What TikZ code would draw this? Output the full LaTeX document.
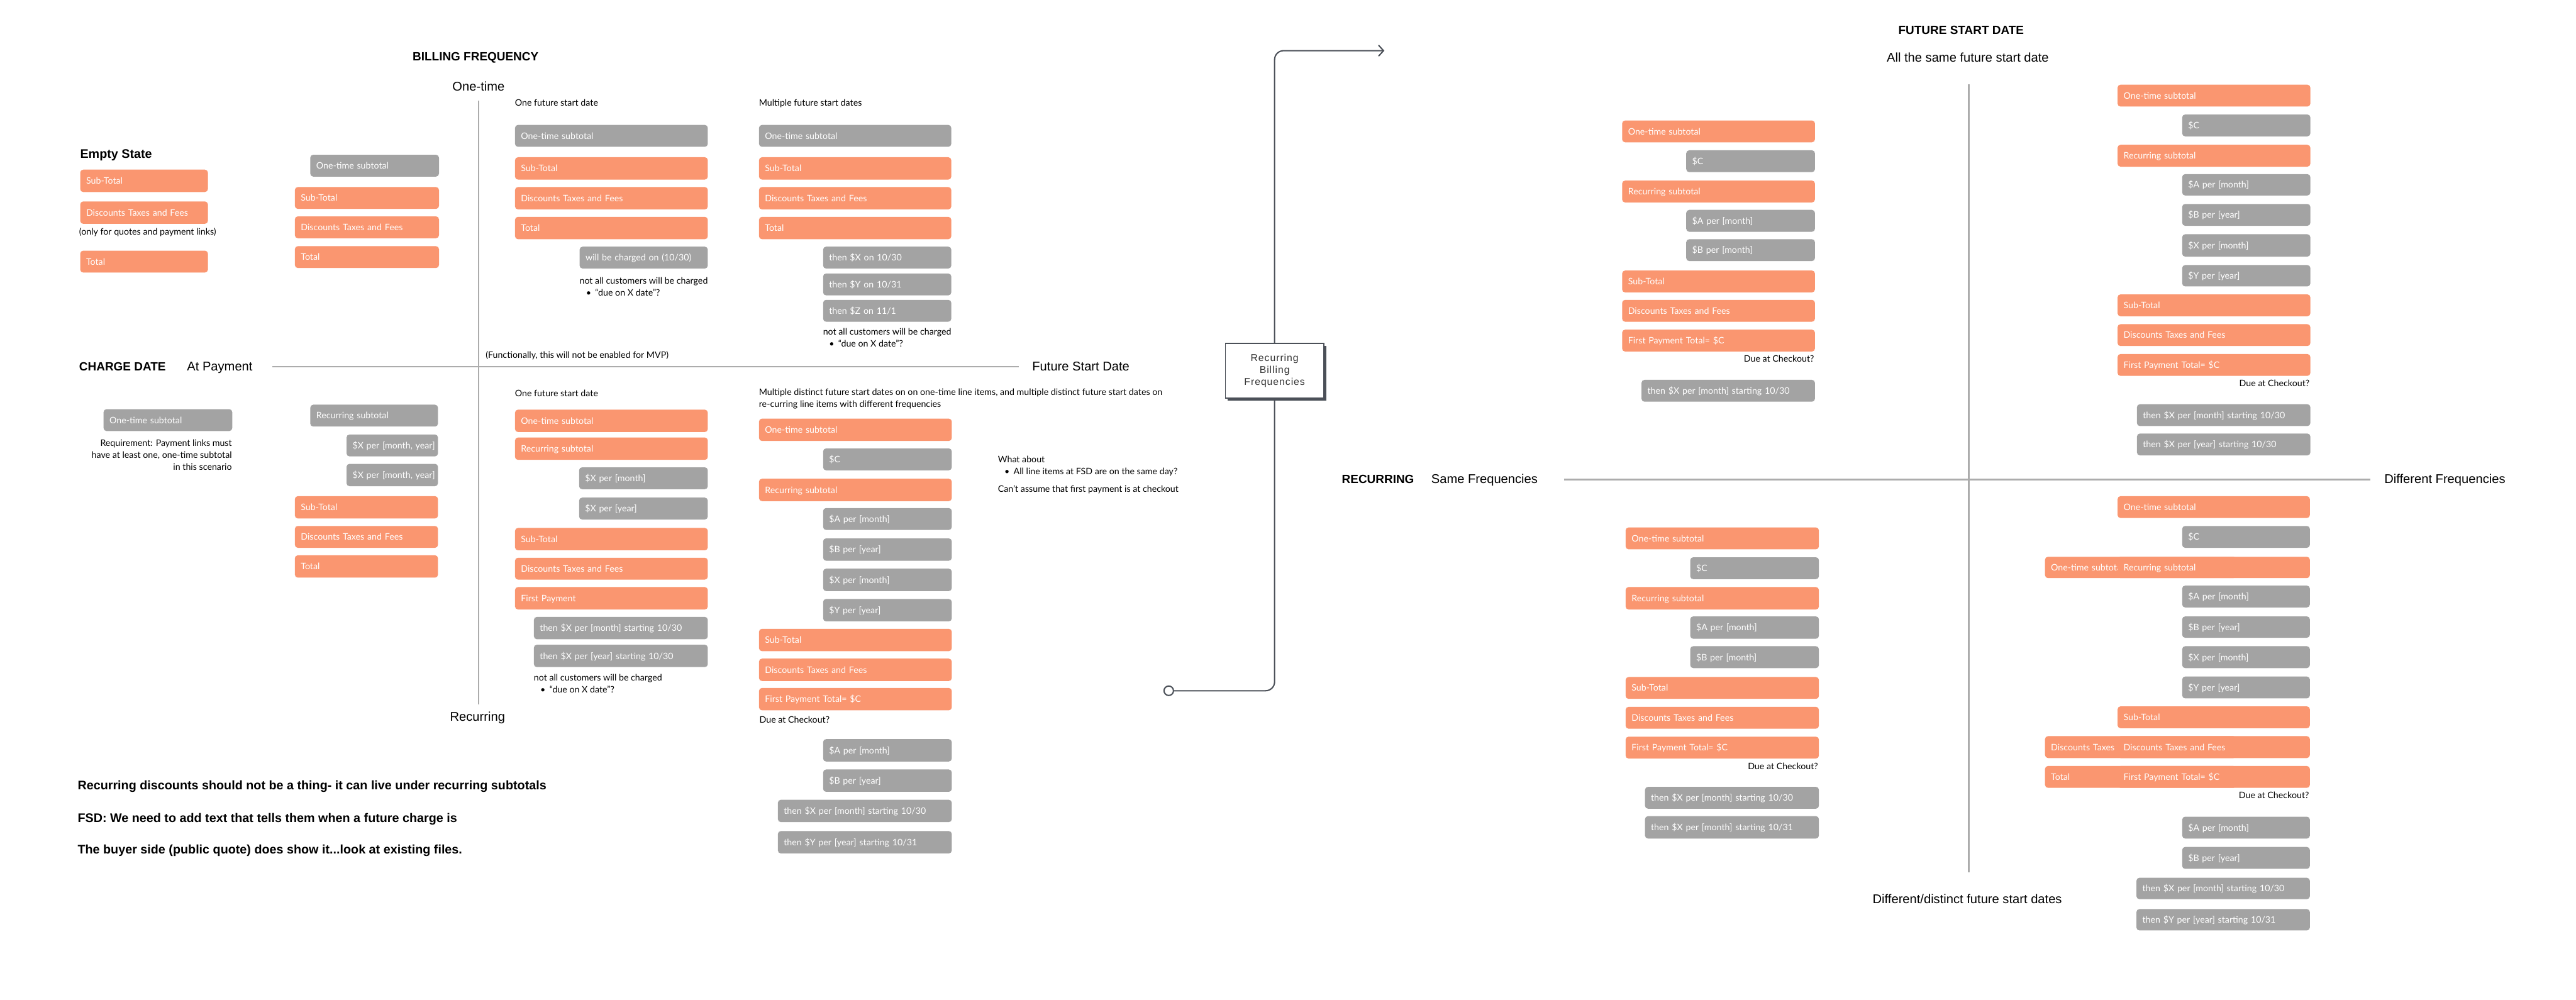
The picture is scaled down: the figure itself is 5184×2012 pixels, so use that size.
\documentclass[tikz,border=0pt]{standalone}
\usepackage{fontspec}
\setmainfont{Lato}
\newfontfamily\arialfam{Liberation Sans}
\newfontfamily\rbffam{Liberation Sans}[LetterSpace=6]
\usetikzlibrary{arrows.meta,shadows}
\definecolor{orangefill}{RGB}{250,150,112}
\definecolor{grayfill}{RGB}{163,163,163}
\definecolor{axisgray}{RGB}{172,172,172}
\definecolor{conncol}{RGB}{75,80,88}
\newcommand\drawbox[7]{%
  \pgfmathsetmacro\bxw{(#5-#3)*0.5-12}%
  \pgfmathsetmacro\bxh{(#6-#4)*0.5}%
  \node[#1, anchor=north west, text width=\bxw pt, minimum height=\bxh pt] (#2) at (#3,#4) {\mbox{#7}};}
\begin{document}
\begin{tikzpicture}[x=0.5pt,y=-0.5pt,
  bxbase/.style={rounded corners=3pt, inner xsep=6pt, inner ysep=0pt, align=left,
    font={\fontsize{9}{11}\selectfont}, text=white, text height=6.5pt, text depth=0pt},
  obox/.style={bxbase, fill=orangefill},
  gbox/.style={bxbase, fill=grayfill},
  nt/.style={anchor=base west, yshift=-3.24pt, inner sep=0pt, font={\fontsize{9}{11}\selectfont}},
  ntr/.style={nt, anchor=base east},
  hd/.style={anchor=base west, yshift=-4.3pt, inner sep=0pt, font={\arialfam\bfseries\fontsize{12}{14}\selectfont}},
  axl/.style={anchor=base, yshift=-4.56pt, inner sep=0pt, font={\arialfam\fontsize{12.75}{15}\selectfont}},
  axlw/.style={axl, anchor=base west},
  bnote/.style={anchor=base west, yshift=-4.47pt, inner sep=0pt, font={\arialfam\bfseries\fontsize{12.5}{15}\selectfont}},
  axisline/.style={draw=axisgray, line width=1.5pt},
  cnx/.style={draw=conncol, line width=1.3pt, rounded corners=9pt}]
\fill[white] (0,0) rectangle (5184,2012);
\useasboundingbox (0,0) rectangle (5184,2012);

% ---------- axes ----------
\draw[axisline] (963,203) -- (963,1417);
\draw[axisline] (548,738) -- (2050,738);
\draw[axisline] (3962,170) -- (3962,1755);
\draw[axisline] (3148,965) -- (4770,965);

% ---------- headings and axis labels ----------
\node[hd] (hbill) at (830,113) {BILLING FREQUENCY};
\node[hd] (hcharge) at (159,737) {CHARGE DATE};
\node[hd] (hfsd) at (3820,61) {FUTURE START DATE};
\node[hd] (hrec) at (2700,964) {RECURRING};
\node[hd, font={\arialfam\bfseries\fontsize{12.5}{15}\selectfont}] (hempty) at (161,310) {Empty State};
\node[axl] (lone) at (963,174) {One-time};
\node[axl] (lrec) at (961,1442) {Recurring};
\node[axlw] (lpay) at (376,737) {At Payment};
\node[axlw] (lfut) at (2077,737) {Future Start Date};
\node[axl] (lsame) at (3960,116) {All the same future start date};
\node[axl] (ldist) at (3959,1809) {Different/distinct future start dates};
\node[axlw] (lsf) at (2880,964) {Same Frequencies};
\node[axlw] (ldf) at (4798,963) {Different Frequencies};

% ---------- empty state ----------
\drawbox{obox}{es1}{161}{341}{418}{386}{Sub-Total}
\drawbox{obox}{es2}{161}{405}{418}{450}{Discounts Taxes and Fees}
\drawbox{obox}{es3}{161}{504}{418}{548}{Total}
\node[nt] (n1) at (159,466) {(only for quotes and payment links)};

% ---------- Q1 top left ----------
\drawbox{gbox}{a1}{624}{311}{883}{355}{One-time subtotal}
\drawbox{obox}{a2}{593}{376}{883}{420}{Sub-Total}
\drawbox{obox}{a3}{593}{435}{883}{479}{Discounts Taxes and Fees}
\drawbox{obox}{a4}{593}{495}{883}{539}{Total}

% ---------- Q1 top right ----------
\node[nt] (n2) at (1036,207) {One future start date};
\drawbox{gbox}{b1}{1036}{251}{1424}{295}{One-time subtotal}
\drawbox{obox}{b2}{1036}{316}{1424}{361}{Sub-Total}
\drawbox{obox}{b3}{1036}{376}{1424}{421}{Discounts Taxes and Fees}
\drawbox{obox}{b4}{1036}{436}{1424}{481}{Total}
\drawbox{gbox}{b5}{1166}{496}{1424}{540}{will be charged on (10/30)}
\node[nt] (n4) at (1166,565) {not all customers will be charged};
\node[nt] (n5) at (1179,589) {•\hspace{4pt}“due on X date”?};

\node[nt] (n3) at (1527,207) {Multiple future start dates};
\drawbox{gbox}{c1}{1527}{251}{1914}{295}{One-time subtotal}
\drawbox{obox}{c2}{1527}{316}{1914}{361}{Sub-Total}
\drawbox{obox}{c3}{1527}{376}{1914}{421}{Discounts Taxes and Fees}
\drawbox{obox}{c4}{1527}{436}{1914}{481}{Total}
\drawbox{gbox}{c5}{1656}{496}{1914}{540}{then \$X on 10/30}
\drawbox{gbox}{c6}{1656}{550}{1914}{594}{then \$Y on 10/31}
\drawbox{gbox}{c7}{1656}{603}{1914}{647}{then \$Z on 11/1}
\node[nt] (n6) at (1656,667) {not all customers will be charged};
\node[nt] (n7) at (1668,691) {•\hspace{4pt}“due on X date”?};
\node[nt] (n8) at (977,714) {(Functionally, this will not be enabled for MVP)};

% ---------- Q1 bottom left ----------
\drawbox{gbox}{d0}{208}{823}{467}{867}{One-time subtotal}
\node[ntr] (n9) at (467,891) {Requirement: Payment links must};
\node[ntr] (n10) at (467,915) {have at least one, one-time subtotal};
\node[ntr] (n11) at (467,940) {in this scenario};
\drawbox{gbox}{d1}{624}{814}{881}{858}{Recurring subtotal}
\drawbox{gbox}{d2}{697}{874}{881}{918}{\$X per [month, year]}
\drawbox{gbox}{d3}{697}{933}{881}{978}{\$X per [month, year]}
\drawbox{obox}{d4}{593}{998}{881}{1043}{Sub-Total}
\drawbox{obox}{d5}{593}{1058}{881}{1102}{Discounts Taxes and Fees}
\drawbox{obox}{d6}{593}{1117}{881}{1162}{Total}

% ---------- Q1 bottom right ----------
\node[nt] (n12) at (1036,791) {One future start date};
\drawbox{obox}{e1}{1036}{824}{1424}{869}{One-time subtotal}
\drawbox{obox}{e2}{1036}{880}{1424}{925}{Recurring subtotal}
\drawbox{gbox}{e3}{1165}{940}{1424}{984}{\$X per [month]}
\drawbox{gbox}{e4}{1165}{1001}{1424}{1045}{\$X per [year]}
\drawbox{obox}{e5}{1036}{1062}{1424}{1107}{Sub-Total}
\drawbox{obox}{e6}{1036}{1122}{1424}{1166}{Discounts Taxes and Fees}
\drawbox{obox}{e7}{1036}{1181}{1424}{1226}{First Payment}
\drawbox{gbox}{e8}{1074}{1241}{1424}{1286}{then \$X per [month] starting 10/30}
\drawbox{gbox}{e9}{1074}{1297}{1424}{1342}{then \$X per [year] starting 10/30}
\node[nt] (n13) at (1074,1364) {not all customers will be charged};
\node[nt] (n14) at (1087,1388) {•\hspace{4pt}“due on X date”?};

\node[nt] (n15) at (1527,789) {Multiple distinct future start dates on on one-time line items, and multiple distinct future start dates on};
\node[nt] (n16) at (1527,813) {re-curring line items with different frequencies};
\drawbox{obox}{f1}{1527}{842}{1915}{887}{One-time subtotal}
\drawbox{gbox}{f2}{1656}{902}{1915}{946}{\$C}
\drawbox{obox}{f3}{1527}{963}{1915}{1008}{Recurring subtotal}
\drawbox{gbox}{f4}{1656}{1022}{1915}{1066}{\$A per [month]}
\drawbox{gbox}{f5}{1656}{1083}{1915}{1128}{\$B per [year]}
\drawbox{gbox}{f6}{1656}{1144}{1915}{1189}{\$X per [month]}
\drawbox{gbox}{f7}{1656}{1205}{1915}{1250}{\$Y per [year]}
\drawbox{obox}{f8}{1527}{1265}{1915}{1310}{Sub-Total}
\drawbox{obox}{f9}{1527}{1325}{1915}{1370}{Discounts Taxes and Fees}
\drawbox{obox}{f10}{1527}{1384}{1915}{1429}{First Payment Total= \$C}
\node[nt] (n17) at (1528,1448) {Due at Checkout?};
\drawbox{gbox}{f11}{1656}{1487}{1915}{1532}{\$A per [month]}
\drawbox{gbox}{f12}{1656}{1548}{1915}{1593}{\$B per [year]}
\drawbox{gbox}{f13}{1565}{1609}{1915}{1654}{then \$X per [month] starting 10/30}
\drawbox{gbox}{f14}{1565}{1672}{1915}{1717}{then \$Y per [year] starting 10/31}

\node[nt] (n18) at (2008,924) {What about};
\node[nt] (n19) at (2021,949) {•\hspace{4pt}All line items at FSD are on the same day?};
\node[nt] (n20) at (2008,984) {Can’t assume that first payment is at checkout};

% ---------- bottom notes ----------
\node[bnote] (m1) at (156,1580) {Recurring discounts should not be a thing- it can live under recurring subtotals};
\node[bnote] (m2) at (156,1646) {FSD: We need to add text that tells them when a future charge is};
\node[bnote] (m3) at (156,1709) {The buyer side (public quote) does show it...look at existing files.};

% ---------- connector ----------
\node[circle, draw=conncol, line width=1.3pt, fill=white, minimum size=9.5pt, inner sep=0pt] (cstart) at (2352,1390) {};
\node[draw=conncol, line width=1pt, fill=white, minimum width=99pt, minimum height=55pt, align=center,
  text=black!80, font={\rbffam\fontsize{10}{12}\selectfont},
  drop shadow={shadow xshift=2.5pt, shadow yshift=-2.5pt, fill=conncol, opacity=1}] (rbf) at (2565,746) {Recurring\\Billing\\Frequencies};
\coordinate (cend) at (2786,102);
\draw[cnx] (cstart.east) -| (rbf.south);
\draw[cnx, -{Straight Barb[length=5pt,width=11pt]}] (rbf.north) |- (cend);

% ---------- right top left ----------
\drawbox{obox}{g1}{3264}{242}{3652}{286}{One-time subtotal}
\drawbox{gbox}{g2}{3393}{302}{3652}{346}{\$C}
\drawbox{obox}{g3}{3264}{363}{3652}{407}{Recurring subtotal}
\drawbox{gbox}{g4}{3393}{422}{3652}{466}{\$A per [month]}
\drawbox{gbox}{g5}{3393}{481}{3652}{525}{\$B per [month]}
\drawbox{obox}{g6}{3264}{544}{3652}{588}{Sub-Total}
\drawbox{obox}{g7}{3264}{603}{3652}{647}{Discounts Taxes and Fees}
\drawbox{obox}{g8}{3264}{663}{3652}{707}{First Payment Total= \$C}
\node[ntr] (n21) at (3651,722) {Due at Checkout?};
\drawbox{gbox}{g9}{3303}{764}{3652}{808}{then \$X per [month] starting 10/30}

% ---------- right top right ----------
\drawbox{obox}{h1}{4261}{170}{4649}{214}{One-time subtotal}
\drawbox{gbox}{h2}{4391}{230}{4649}{274}{\$C}
\drawbox{obox}{h3}{4261}{291}{4649}{335}{Recurring subtotal}
\drawbox{gbox}{h4}{4391}{350}{4649}{393}{\$A per [month]}
\drawbox{gbox}{h5}{4391}{410}{4649}{454}{\$B per [year]}
\drawbox{gbox}{h6}{4391}{471}{4649}{516}{\$X per [month]}
\drawbox{gbox}{h7}{4391}{533}{4649}{576}{\$Y per [year]}
\drawbox{obox}{h8}{4261}{592}{4649}{636}{Sub-Total}
\drawbox{obox}{h9}{4261}{652}{4649}{696}{Discounts Taxes and Fees}
\drawbox{obox}{h10}{4261}{712}{4649}{756}{First Payment Total= \$C}
\node[ntr] (n22) at (4648,771) {Due at Checkout?};
\drawbox{gbox}{h11}{4300}{813}{4649}{857}{then \$X per [month] starting 10/30}
\drawbox{gbox}{h12}{4300}{872}{4649}{916}{then \$X per [year] starting 10/30}

% ---------- right bottom left ----------
\drawbox{obox}{i1}{3271}{1061}{3660}{1105}{One-time subtotal}
\drawbox{gbox}{i2}{3401}{1121}{3660}{1165}{\$C}
\drawbox{obox}{i3}{3271}{1181}{3660}{1226}{Recurring subtotal}
\drawbox{gbox}{i4}{3401}{1240}{3660}{1285}{\$A per [month]}
\drawbox{gbox}{i5}{3401}{1300}{3660}{1344}{\$B per [month]}
\drawbox{obox}{i6}{3271}{1362}{3660}{1406}{Sub-Total}
\drawbox{obox}{i7}{3271}{1422}{3660}{1466}{Discounts Taxes and Fees}
\drawbox{obox}{i8}{3271}{1482}{3660}{1526}{First Payment Total= \$C}
\node[ntr] (n23) at (3659,1542) {Due at Checkout?};
\drawbox{gbox}{i9}{3310}{1583}{3660}{1627}{then \$X per [month] starting 10/30}
\drawbox{gbox}{i10}{3310}{1642}{3660}{1687}{then \$X per [month] starting 10/31}

% ---------- right bottom right ----------
\drawbox{obox}{j1}{4261}{998}{4648}{1042}{One-time subtotal}
\drawbox{gbox}{j2}{4391}{1058}{4648}{1102}{\$C}
\drawbox{obox}{j3b}{4115}{1120}{4500}{1163}{One-time subtotal}
\drawbox{obox}{j3}{4261}{1120}{4648}{1163}{Recurring subtotal}
\drawbox{gbox}{j4}{4391}{1178}{4648}{1222}{\$A per [month]}
\drawbox{gbox}{j5}{4391}{1240}{4648}{1283}{\$B per [year]}
\drawbox{gbox}{j6}{4391}{1300}{4648}{1344}{\$X per [month]}
\drawbox{gbox}{j7}{4391}{1361}{4648}{1405}{\$Y per [year]}
\drawbox{obox}{j8}{4261}{1421}{4648}{1465}{Sub-Total}
\drawbox{obox}{j9b}{4115}{1481}{4500}{1525}{Discounts Taxes and Fees}
\drawbox{obox}{j9}{4261}{1481}{4648}{1525}{Discounts Taxes and Fees}
\drawbox{obox}{j10b}{4115}{1541}{4500}{1585}{Total}
\drawbox{obox}{j10}{4261}{1541}{4648}{1585}{First Payment Total= \$C}
\node[ntr] (n24) at (4647,1600) {Due at Checkout?};
\drawbox{gbox}{j11}{4391}{1643}{4648}{1687}{\$A per [month]}
\drawbox{gbox}{j12}{4391}{1704}{4648}{1748}{\$B per [year]}
\drawbox{gbox}{j13}{4299}{1766}{4648}{1809}{then \$X per [month] starting 10/30}
\drawbox{gbox}{j14}{4299}{1829}{4648}{1872}{then \$Y per [year] starting 10/31}
\end{tikzpicture}
\end{document}
